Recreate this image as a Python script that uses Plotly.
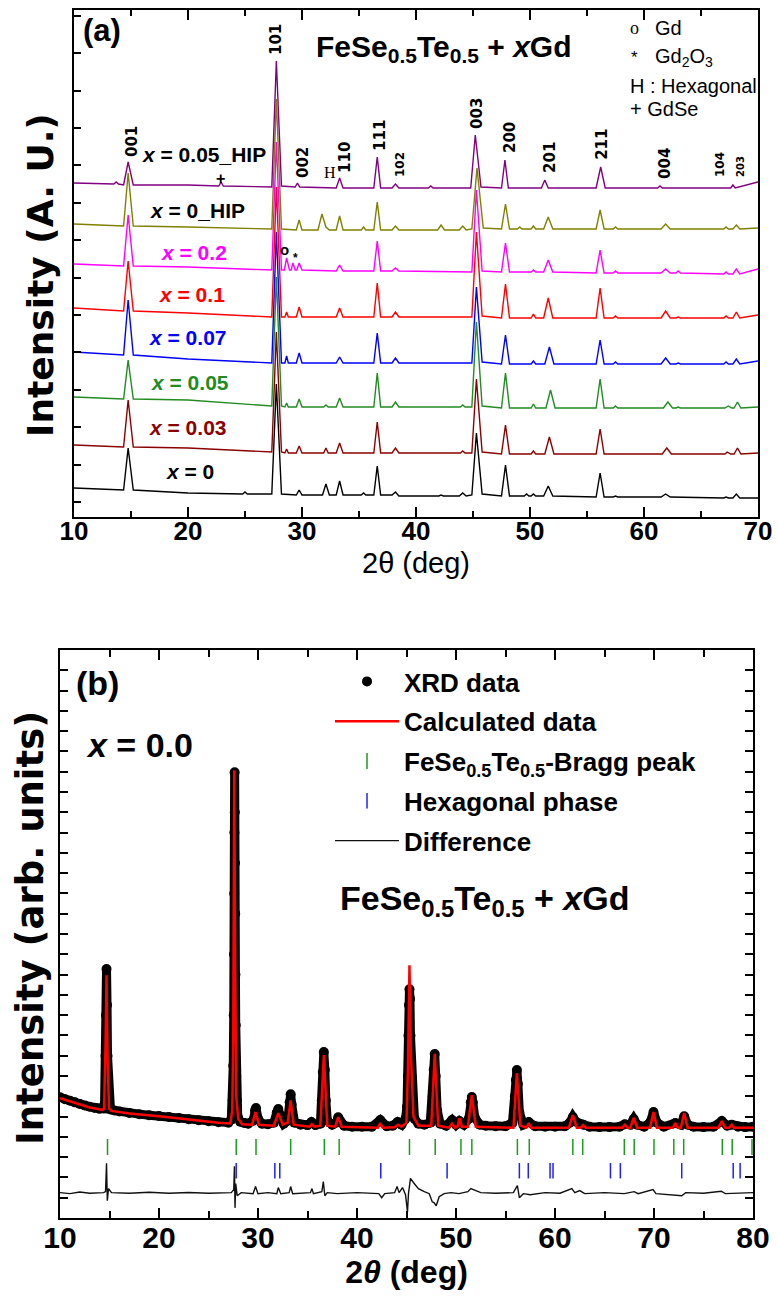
import plotly.graph_objects as go

W, H = 778, 1300

# ---------------- Panel (a): stacked XRD patterns (intensity, offset units) ----------------
A0_X = [10, 14.35, 14.75, 15.2, 20, 24.8, 25.0, 25.2, 27.35, 27.75, 28.2, 29.5, 29.75, 30.0, 31.8, 32.1, 32.4, 33.0, 33.3, 33.6, 35.2, 35.4, 35.6, 36.3, 36.6, 36.9, 37.9, 38.2, 38.5, 42.0, 42.2, 42.4, 43.8, 44.1, 44.4, 44.9, 45.3, 45.8, 47.5, 47.85, 48.2, 49.5, 49.7, 49.9, 50.1, 50.3, 50.5, 51.2, 51.6, 52.0, 55.8, 56.15, 56.5, 57.3, 57.5, 57.7, 61.5, 61.9, 62.3, 67.0, 67.2, 67.4, 67.8, 68.1, 68.4, 70]
A0_Y = [29, 27, 69, 27, 24, 23, 25, 23, 23, 133, 23, 22, 27, 22, 22, 33, 22, 22, 36, 22, 22, 24, 22, 22, 51, 22, 22, 25, 21, 21, 22, 21, 21, 24, 21, 22, 84, 23, 21, 52, 21, 21, 23, 21, 21, 23, 21, 21, 31, 21, 20, 44, 20, 20, 21, 20, 20, 23, 20, 19, 20, 19, 19, 23, 19, 19]

A003_X = [10, 14.35, 14.75, 15.2, 20, 27.35, 27.75, 28.2, 28.5, 28.65, 28.8, 29.5, 29.75, 30.0, 31.9, 32.1, 32.3, 33.0, 33.3, 33.6, 36.3, 36.6, 36.9, 37.9, 38.2, 38.5, 43.9, 44.1, 44.3, 44.9, 45.3, 45.8, 47.5, 47.85, 48.2, 50.1, 50.3, 50.5, 51.3, 51.7, 52.1, 55.8, 56.15, 56.5, 61.6, 62.0, 62.4, 67.1, 67.3, 67.6, 67.9, 68.2, 68.5, 70]
A003_Y = [72, 70, 117, 70, 69, 65, 185, 65, 64, 68, 64, 64, 71, 64, 64, 69, 64, 64, 74, 64, 64, 95, 64, 64, 69, 64, 64, 66, 64, 64, 138, 65, 63, 92, 63, 63, 66, 63, 63, 80, 63, 63, 88, 63, 63, 69, 63, 63, 65, 63, 63, 69, 63, 64]

A005_X = [10, 14.35, 14.75, 15.2, 20, 27.35, 27.75, 28.2, 28.5, 28.65, 28.8, 29.5, 29.75, 30.0, 31.9, 32.1, 32.3, 33.0, 33.3, 33.6, 36.3, 36.6, 36.9, 37.9, 38.2, 38.5, 43.9, 44.1, 44.3, 44.9, 45.3, 45.8, 47.5, 47.85, 48.2, 50.1, 50.3, 50.5, 51.4, 51.8, 52.2, 55.8, 56.15, 56.5, 57.3, 57.5, 57.7, 61.7, 62.1, 62.5, 62.8, 63.0, 63.2, 67.1, 67.4, 67.7, 67.9, 68.2, 68.5, 70]
A005_Y = [120, 118, 157, 118, 117, 111, 240, 111, 110, 114, 110, 110, 118, 110, 110, 112, 110, 110, 119, 110, 110, 144, 110, 110, 115, 110, 110, 112, 110, 110, 195, 111, 109, 144, 109, 109, 113, 109, 109, 127, 109, 109, 138, 109, 109, 111, 109, 109, 115, 109, 109, 110, 109, 109, 111, 109, 109, 115, 109, 110]

A007_X = [10, 14.35, 14.75, 15.2, 20, 27.35, 27.75, 28.2, 28.5, 28.65, 28.8, 29.5, 29.75, 30.0, 33.0, 33.3, 33.6, 36.3, 36.6, 36.9, 37.9, 38.2, 38.5, 44.9, 45.3, 45.8, 47.5, 47.85, 48.2, 50.1, 50.3, 50.5, 51.3, 51.7, 52.1, 55.8, 56.15, 56.5, 57.3, 57.5, 57.7, 61.5, 61.9, 62.3, 62.8, 63.0, 63.2, 67.0, 67.2, 67.4, 67.8, 68.1, 68.4, 70]
A007_Y = [165, 162, 217, 162, 158, 154, 285, 154, 154, 161, 154, 154, 164, 154, 154, 160, 154, 154, 184, 154, 154, 159, 154, 154, 230, 155, 153, 182, 153, 153, 156, 153, 153, 170, 153, 153, 177, 153, 153, 155, 153, 153, 159, 153, 153, 154, 153, 153, 155, 153, 153, 158, 153, 156]

A01_X = [10, 14.35, 14.75, 15.2, 20, 27.35, 27.75, 28.2, 28.5, 28.65, 28.8, 29.5, 29.75, 30.0, 33.0, 33.3, 33.6, 36.3, 36.6, 36.9, 37.9, 38.2, 38.5, 44.9, 45.3, 45.8, 47.5, 47.85, 48.2, 50.1, 50.3, 50.5, 51.2, 51.6, 52.0, 55.8, 56.15, 56.5, 57.3, 57.5, 57.7, 61.5, 61.9, 62.3, 62.8, 63.0, 63.2, 67.0, 67.2, 67.4, 67.8, 68.1, 68.4, 70]
A01_Y = [209, 206, 256, 206, 204, 200, 330, 200, 200, 205, 200, 200, 210, 200, 200, 209, 200, 200, 234, 200, 200, 205, 200, 200, 285, 201, 199, 233, 199, 199, 203, 199, 199, 219, 199, 199, 229, 199, 199, 201, 199, 199, 206, 199, 199, 200, 199, 199, 201, 199, 199, 205, 199, 202]

A02_X = [10, 14.35, 14.75, 15.2, 20, 27.35, 27.75, 28.2, 28.45, 28.65, 28.9, 29.05, 29.2, 29.4, 29.55, 29.75, 30.0, 33.0, 33.3, 33.6, 36.3, 36.6, 36.9, 37.9, 38.2, 38.5, 44.9, 45.3, 45.8, 47.5, 47.85, 48.2, 50.1, 50.3, 50.5, 51.2, 51.6, 52.0, 55.8, 56.15, 56.5, 57.3, 57.5, 57.7, 61.5, 61.9, 62.3, 62.8, 63.0, 63.2, 67.0, 67.2, 67.4, 67.8, 68.1, 68.4, 70]
A02_Y = [253, 251, 302, 251, 250, 247, 375, 247, 247, 259, 247, 247, 254, 247, 247, 254, 247, 246, 252, 246, 246, 276, 246, 246, 249, 246, 245, 327, 246, 245, 274, 245, 245, 247, 245, 245, 257, 245, 244, 267, 244, 244, 246, 244, 244, 248, 244, 244, 246, 244, 243, 245, 243, 243, 248, 243, 248]

A0H_X = [10, 14.35, 14.75, 15.2, 20, 27.35, 27.75, 28.2, 29.5, 29.75, 30.0, 31.4, 31.75, 32.1, 32.4, 33.0, 33.3, 33.6, 35.2, 35.4, 35.6, 36.3, 36.6, 36.9, 37.9, 38.2, 38.5, 41.9, 42.2, 42.5, 43.8, 44.1, 44.4, 44.9, 45.35, 45.9, 47.5, 47.85, 48.2, 48.9, 49.1, 49.3, 50.1, 50.3, 50.5, 51.2, 51.6, 52.0, 55.8, 56.15, 56.5, 57.3, 57.5, 57.7, 61.5, 61.9, 62.3, 67.0, 67.2, 67.4, 67.8, 68.1, 68.4, 70]
A0H_Y = [293, 291, 344, 291, 290, 288, 418, 288, 287, 297, 287, 287, 303, 290, 287, 287, 301, 287, 287, 290, 287, 287, 315, 287, 287, 291, 287, 287, 292, 287, 287, 291, 287, 288, 349, 289, 288, 313, 288, 288, 290, 288, 288, 291, 288, 288, 300, 288, 288, 307, 288, 288, 290, 288, 288, 293, 288, 288, 290, 288, 288, 292, 288, 289]

A005H_X = [10, 13.5, 13.7, 13.9, 14.35, 14.75, 15.2, 20, 22.7, 22.9, 23.1, 27.35, 27.75, 28.2, 29.4, 29.6, 29.8, 33.0, 33.3, 33.6, 36.3, 36.6, 36.9, 37.9, 38.2, 38.5, 41.1, 41.3, 41.5, 44.8, 45.2, 45.7, 47.5, 47.8, 48.1, 51.0, 51.3, 51.6, 55.8, 56.2, 56.6, 61.2, 61.4, 61.6, 67.6, 67.8, 68.0, 70]
A005H_Y = [334, 333, 335, 333, 332, 355, 332, 332, 331, 335, 331, 330, 456, 331, 330, 334, 330, 329, 339, 329, 329, 360, 329, 329, 333, 329, 329, 331, 329, 329, 382, 330, 329, 357, 329, 329, 337, 329, 329, 350, 329, 329, 331, 329, 329, 332, 329, 335]

SERIES_A = [
    ("x = 0", A0_X, A0_Y, "#000000"),
    ("x = 0.03", A003_X, A003_Y, "#8B0000"),
    ("x = 0.05", A005_X, A005_Y, "#228B22"),
    ("x = 0.07", A007_X, A007_Y, "#0000FF"),
    ("x = 0.1", A01_X, A01_Y, "#FF0000"),
    ("x = 0.2", A02_X, A02_Y, "#FF00FF"),
    ("x = 0_HIP", A0H_X, A0H_Y, "#808000"),
    ("x = 0.05_HIP", A005H_X, A005H_Y, "#800080"),
]
for _n, _x, _y, _c in SERIES_A:
    assert len(_x) == len(_y), _n

# ---------------- Panel (b): Rietveld refinement, x = 0.0 ----------------
OBS_POINTS = [
    (10, 5.95), (10.5, 5.85), (11, 5.78), (11.5, 5.7), (12, 5.62), (12.5, 5.55), (13, 5.48), (13.5, 5.42),
    (14, 5.38), (14.4, 5.4), (14.5, 5.6), (14.6, 8.0), (14.65, 10.0), (14.7, 12.27), (14.75, 10.5),
    (14.8, 8.0), (14.9, 5.8), (15.1, 5.35), (15.5, 5.3), (16, 5.25), (17, 5.18), (18, 5.12), (19, 5.07),
    (20, 5.03), (21, 4.98), (22, 4.93), (23, 4.87), (24, 4.82), (25, 4.77), (26, 4.72), (27, 4.7),
    (27.3, 4.85), (27.45, 5.8), (27.5, 7.5), (27.55, 10), (27.58, 13), (27.6, 16), (27.62, 19),
    (27.64, 21.97), (27.66, 20), (27.68, 17.5), (27.7, 15), (27.72, 12), (27.75, 9.5), (27.8, 7),
    (27.85, 5.8), (27.95, 5.0), (28.2, 4.75), (28.6, 4.68), (29.0, 4.65), (29.5, 4.8), (29.7, 5.3),
    (29.8, 5.42), (30.0, 4.9), (30.4, 4.65), (31.0, 4.62), (31.6, 4.7), (31.9, 5.2), (32.05, 5.37),
    (32.2, 5.1), (32.6, 4.65), (33.0, 4.8), (33.2, 5.7), (33.3, 6.1), (33.4, 5.6), (33.7, 4.7),
    (34.3, 4.6), (35.0, 4.58), (35.4, 4.73), (35.8, 4.58), (36.3, 4.65), (36.45, 5.8), (36.55, 7.2),
    (36.65, 8.18), (36.75, 7.3), (36.85, 5.8), (37.0, 4.8), (37.5, 4.6), (37.9, 4.7), (38.1, 4.97),
    (38.3, 4.75), (38.7, 4.55), (39.5, 4.5), (40.5, 4.5), (41.5, 4.5), (42.35, 4.83), (43.0, 4.52),
    (43.6, 4.55), (44.1, 4.73), (44.5, 4.6), (44.9, 4.9), (45.05, 5.5), (45.15, 7.0), (45.2, 9.0),
    (45.25, 10.5), (45.3, 11.28), (45.35, 10.8), (45.4, 9.0), (45.5, 7.0), (45.6, 5.6), (45.8, 4.9),
    (46.2, 4.65), (46.8, 4.6), (47.4, 4.7), (47.65, 6.0), (47.75, 7.3), (47.85, 8.08), (47.95, 7.0),
    (48.1, 5.3), (48.4, 4.65), (49.0, 4.55), (49.6, 4.83), (50.0, 4.6), (50.35, 4.78), (50.8, 4.6),
    (51.3, 4.9), (51.5, 5.7), (51.6, 5.96), (51.7, 5.7), (51.9, 4.95), (52.4, 4.6), (53, 4.55),
    (54, 4.52), (55, 4.52), (55.7, 4.7), (55.95, 6.0), (56.05, 6.8), (56.15, 7.29), (56.25, 6.6),
    (56.4, 5.2), (56.8, 4.6), (57.35, 4.73), (58, 4.52), (59, 4.5), (60, 4.5), (61.0, 4.52),
    (61.5, 4.7), (61.8, 4.98), (62.1, 4.75), (62.85, 4.6), (63.5, 4.5), (64.5, 4.48), (65.5, 4.48),
    (66.5, 4.5), (67.05, 4.62), (67.6, 4.6), (67.95, 4.88), (68.3, 4.6), (69.0, 4.5), (69.6, 4.7),
    (69.95, 5.22), (70.3, 4.7), (71.0, 4.5), (72.15, 4.68), (72.7, 4.6), (73.05, 5.02), (73.4, 4.6),
    (74, 4.5), (75, 4.48), (76, 4.5), (76.85, 4.78), (77.4, 4.55), (77.85, 4.6), (78.5, 4.5),
    (79.2, 4.48), (80, 4.5),
]
OBS_X = [p[0] for p in OBS_POINTS]
OBS_Y = [p[1] for p in OBS_POINTS]

CALC_X = [10, 11, 12, 13, 14.3, 14.45, 14.6, 14.7, 14.8, 14.95, 15.2, 17, 20, 23, 26, 27.2, 27.4, 27.5, 27.6, 27.7, 27.8, 28.0, 28.4, 29.4, 29.75, 30.1, 31.6, 32.05, 32.5, 33.0, 33.3, 33.6, 35.2, 35.45, 35.7, 36.3, 36.65, 37.0, 37.8, 38.1, 38.45, 42.1, 42.35, 42.6, 43.8, 44.15, 44.5, 45.0, 45.15, 45.3, 45.45, 45.7, 46.2, 47.5, 47.85, 48.2, 49.3, 49.6, 49.9, 50.15, 50.35, 50.6, 51.2, 51.6, 52.0, 55.8, 56.15, 56.5, 57.1, 57.35, 57.6, 61.4, 61.8, 62.2, 62.6, 62.85, 63.1, 66.8, 67.05, 67.3, 67.6, 67.95, 68.3, 69.6, 69.95, 70.3, 71.9, 72.15, 72.4, 72.7, 73.05, 73.4, 76.5, 76.85, 77.2, 77.6, 77.85, 78.1, 80]
CALC_Y = [5.9, 5.75, 5.6, 5.45, 5.33, 5.4, 8.5, 11.97, 8.0, 5.4, 5.28, 5.15, 5.02, 4.85, 4.7, 4.66, 5.3, 9.0, 22.07, 12.0, 6.0, 4.9, 4.62, 4.6, 5.22, 4.6, 4.55, 5.17, 4.6, 4.7, 5.8, 4.6, 4.5, 4.62, 4.5, 4.55, 8.03, 4.55, 4.5, 4.97, 4.5, 4.45, 4.68, 4.45, 4.47, 4.6, 4.5, 4.7, 7.5, 12.46, 8.0, 5.0, 4.55, 4.55, 8.1, 4.55, 4.45, 4.65, 4.45, 4.5, 4.93, 4.5, 4.5, 6.06, 4.5, 4.45, 7.14, 4.55, 4.45, 4.68, 4.45, 4.45, 5.07, 4.45, 4.45, 4.58, 4.45, 4.45, 4.6, 4.45, 4.45, 4.93, 4.45, 4.45, 5.22, 4.45, 4.45, 4.68, 4.45, 4.45, 5.17, 4.45, 4.45, 4.78, 4.45, 4.45, 4.6, 4.45, 4.45]
assert len(CALC_X) == len(CALC_Y)

DIFF_POINTS = [
    (10, 1.25), (11, 1.2), (12, 1.28), (13, 1.22), (14.4, 1.25), (14.6, 1.3), (14.7, 2.7), (14.78, 0.85),
    (14.9, 1.45), (15.2, 1.25), (17, 1.22), (19, 1.27), (21, 1.22), (23, 1.26), (25, 1.22), (27.3, 1.25),
    (27.55, 1.4), (27.62, 2.55), (27.68, 0.5), (27.75, 1.7), (27.9, 1.1), (28.3, 1.25), (29.5, 1.2),
    (29.75, 1.55), (30.0, 1.2), (31.0, 1.25), (31.9, 1.2), (32.05, 1.5), (32.3, 1.2), (33.15, 1.25),
    (33.3, 1.55), (33.5, 1.2), (35.3, 1.25), (35.45, 1.45), (35.6, 1.2), (36.45, 1.3), (36.6, 1.8),
    (36.75, 1.1), (37.0, 1.25), (38.0, 1.2), (40, 1.25), (42.2, 1.2), (42.5, 1.0), (42.8, 1.2),
    (43.8, 1.25), (44.05, 1.55), (44.25, 1.25), (44.6, 1.5), (44.9, 1.15), (45.1, 0.3), (45.2, 1.2),
    (45.4, 1.95), (45.7, 1.75), (46.2, 1.45), (46.8, 1.3), (47.3, 1.2), (47.6, 0.8), (47.8, 0.75),
    (48.0, 0.6), (48.3, 1.05), (48.8, 1.2), (49.5, 1.25), (50.3, 1.2), (51.2, 1.3), (51.5, 1.45),
    (51.8, 1.4), (52.5, 1.25), (54, 1.22), (55.8, 1.25), (56.2, 1.6), (56.4, 1.0), (56.8, 1.2),
    (57.5, 1.15), (59, 1.25), (60.5, 1.22), (61.7, 1.45), (62.0, 1.25), (62.5, 1.35), (63, 1.2),
    (65, 1.25), (67, 1.2), (68, 1.3), (68.4, 1.2), (69.9, 1.4), (70.2, 1.2), (72.8, 1.1), (73.2, 1.25),
    (75, 1.22), (76.8, 1.32), (77.2, 1.2), (79, 1.25), (80, 1.25),
]
DIFF_X = [p[0] for p in DIFF_POINTS]
DIFF_Y = [p[1] for p in DIFF_POINTS]

BRAGG_MAIN = [14.8, 27.8, 29.8, 33.3, 36.7, 38.2, 45.3, 47.9, 50.5, 51.6, 56.2, 57.4, 61.8, 62.8, 67.0, 68.0, 70.0, 72.0, 73.0, 76.9, 77.9, 79.9]
BRAGG_HEX = [27.8, 31.7, 32.2, 42.4, 49.1, 56.4, 57.3, 59.5, 59.8, 65.6, 66.6, 72.8, 78.0, 78.7]
BRAGG_MAIN_LEVEL = 3.5
BRAGG_HEX_LEVEL = 2.33

# ---------------- figure ----------------
SANS = "Liberation Sans"
WIDE = "DejaVu Sans"

fig = go.Figure()

for name, xs, ys, col in SERIES_A:
    fig.add_trace(go.Scatter(x=xs, y=ys, mode="lines", line=dict(color=col, width=1.4),
                             showlegend=False, xaxis="x", yaxis="y", name=name))

# panel b traces
fig.add_trace(go.Scatter(x=OBS_X, y=OBS_Y, mode="lines+markers",
                         line=dict(color="black", width=9),
                         marker=dict(color="black", size=10), showlegend=False,
                         xaxis="x2", yaxis="y2", name="XRD data"))
fig.add_trace(go.Scatter(x=[None], y=[None], mode="markers", marker=dict(color="black", size=10),
                         name="XRD data", legendgroup="g1", xaxis="x2", yaxis="y2"))
fig.add_trace(go.Scatter(x=CALC_X, y=CALC_Y, mode="lines", line=dict(color="#FF0000", width=2.5),
                         name="Calculated data", legendgroup="g2", xaxis="x2", yaxis="y2"))
fig.add_trace(go.Scatter(x=BRAGG_MAIN, y=[BRAGG_MAIN_LEVEL] * len(BRAGG_MAIN), mode="markers",
                         marker=dict(symbol="line-ns", size=11.5, line=dict(color="#1E9A1E", width=1.5)),
                         name="FeSe<sub>0.5</sub>Te<sub>0.5</sub>-Bragg peak", legendgroup="g3",
                         xaxis="x2", yaxis="y2"))
fig.add_trace(go.Scatter(x=BRAGG_HEX, y=[BRAGG_HEX_LEVEL] * len(BRAGG_HEX), mode="markers",
                         marker=dict(symbol="line-ns", size=11, line=dict(color="#2020FF", width=1.5)),
                         name="Hexagonal phase", legendgroup="g4", xaxis="x2", yaxis="y2"))
fig.add_trace(go.Scatter(x=DIFF_X, y=DIFF_Y, mode="lines", line=dict(color="#111111", width=1.4),
                         name="Difference", legendgroup="g5", xaxis="x2", yaxis="y2"))

def py(p):
    return 1 - p / H

axis_common = dict(showline=True, linecolor="black", linewidth=2, ticks="inside", tickcolor="black",
                   tickwidth=2, showgrid=False, zeroline=False)

fig.update_layout(
    width=W, height=H, autosize=False,
    margin=dict(l=0, r=0, t=0, b=0, autoexpand=False),
    paper_bgcolor="white", plot_bgcolor="white",
    xaxis=dict(domain=[74 / W, 758 / W], range=[10, 70], anchor="y", dtick=10, tick0=10,
               ticklen=10, mirror="ticks", ticklabelstandoff=-10,
               minor=dict(dtick=5, tick0=10, ticklen=6, ticks="inside", tickcolor="black", tickwidth=2),
               tickfont=dict(family=SANS, size=26, weight="bold", color="black"),
               **axis_common),
    yaxis=dict(domain=[py(517), py(10)], range=[0, 507], anchor="x", tick0=15, dtick=37.4,
               ticklen=7, mirror=True, showticklabels=False,
               **axis_common),
    xaxis2=dict(domain=[60 / W, 753 / W], range=[10, 80], anchor="y2", dtick=10, tick0=10,
                ticklen=10, mirror="ticks", ticklabelstandoff=-8,
                minor=dict(dtick=5, tick0=10, ticklen=7, ticks="inside", tickcolor="black", tickwidth=2),
                tickfont=dict(family=SANS, size=30, weight="bold", color="black"),
                title=dict(text="2<i>θ</i> (deg)", font=dict(family=SANS, size=32, weight="bold", color="black"),
                           standoff=2),
                **axis_common),
    yaxis2=dict(domain=[py(1218), py(650)], range=[0, 28], anchor="x2", tick0=0, dtick=1,
                ticklen=8, mirror="ticks", showticklabels=False,
                **axis_common),
    legend=dict(x=330 / W, y=py(658), xanchor="left", yanchor="top", bgcolor="rgba(0,0,0,0)",
                font=dict(family=SANS, size=26, weight="bold", color="black"),
                tracegroupgap=3, itemwidth=64, traceorder="grouped"),
)

ann = []
def A(text, x, y, size, xref="x", yref="y", angle=0, family=SANS, weight="bold", color="black",
      xanchor="center", yanchor="middle"):
    ann.append(dict(text=text, x=x, y=y, xref=xref, yref=yref, textangle=angle, showarrow=False,
                    xanchor=xanchor, yanchor=yanchor,
                    font=dict(family=family, size=size, weight=weight, color=color)))

# axis titles
A("2θ (deg)", 416 / W, py(563), 29, xref="paper", yref="paper", weight="normal")
A("Intensity (A. U.)", 40 / W, py(275), 36, xref="paper", yref="paper", angle=-90, family=WIDE)
A("Intensity (arb. units)", 31 / W, py(928), 37, xref="paper", yref="paper", angle=-90, family=WIDE)

# panel (a) texts
A("(a)", 102 / W, py(30), 31, xref="paper", yref="paper")
A("FeSe<sub>0.5</sub>Te<sub>0.5</sub> + <i>x</i>Gd", 314 / W, py(48), 30, xref="paper", yref="paper",
  xanchor="left")
A("o", 628 / W, py(28), 18, xref="paper", yref="paper", family="Liberation Serif", weight="normal",
  xanchor="left")
A("Gd", 653 / W, py(28), 20, xref="paper", yref="paper", weight="normal", xanchor="left")
A("*", 629 / W, py(58), 17, xref="paper", yref="paper", weight="normal", xanchor="left")
A("Gd<sub>2</sub>O<sub>3</sub>", 653 / W, py(58), 20, xref="paper", yref="paper", weight="normal",
  xanchor="left")
A("H : Hexagonal", 628 / W, py(86), 20, xref="paper", yref="paper", weight="normal", xanchor="left")
A("+ GdSe", 628 / W, py(109), 20, xref="paper", yref="paper", weight="normal", xanchor="left")

MILLER = [("001", 15.09, 375, 15), ("101", 27.72, 477, 15), ("002", 30.09, 354, 15),
          ("110", 33.77, 360, 15), ("111", 36.84, 382, 15), ("102", 38.6, 352, 12),
          ("003", 45.35, 404, 15), ("200", 48.25, 379, 15), ("201", 51.75, 360, 15),
          ("211", 56.3, 373, 15), ("004", 61.84, 354, 15), ("104", 66.67, 352, 12),
          ("203", 68.5, 351, 10)]
for t, mx, my, ms in MILLER:
    A(t, mx, my, ms, angle=-90, family=WIDE)
A("H", 32.46, 344, 16, family="Liberation Serif", weight="normal")
A("+", 22.89, 338, 16)
A("o", 28.5, 267, 15, family=SANS)
A("*", 29.47, 259, 12, family=SANS)

LABELS_A = [("<i>x</i> = 0.05_HIP", 21.4, 362, "#000000"), ("<i>x</i> = 0_HIP", 20.79, 306, "#000000"),
            ("<i>x</i> = 0.2", 20.53, 264, "#FF00FF"), ("<i>x</i> = 0.1", 20.35, 222, "#FF0000"),
            ("<i>x</i> = 0.07", 20.0, 179, "#0000FF"), ("<i>x</i> = 0.05", 20.18, 134, "#228B22"),
            ("<i>x</i> = 0.03", 20.0, 89, "#8B0000"), ("<i>x</i> = 0", 20.18, 45, "#000000")]
for t, lx, ly, c in LABELS_A:
    A(t, lx, ly, 21, color=c)

# panel (b) texts
A("(b)", 97 / W, py(683), 34, xref="paper", yref="paper")
A("<i>x</i> = 0.0", 139 / W, py(745), 34, xref="paper", yref="paper")
A("FeSe<sub>0.5</sub>Te<sub>0.5</sub> + <i>x</i>Gd", 485 / W, py(900), 34, xref="paper", yref="paper")

fig.update_layout(annotations=ann)
fig.write_html("out.html")
